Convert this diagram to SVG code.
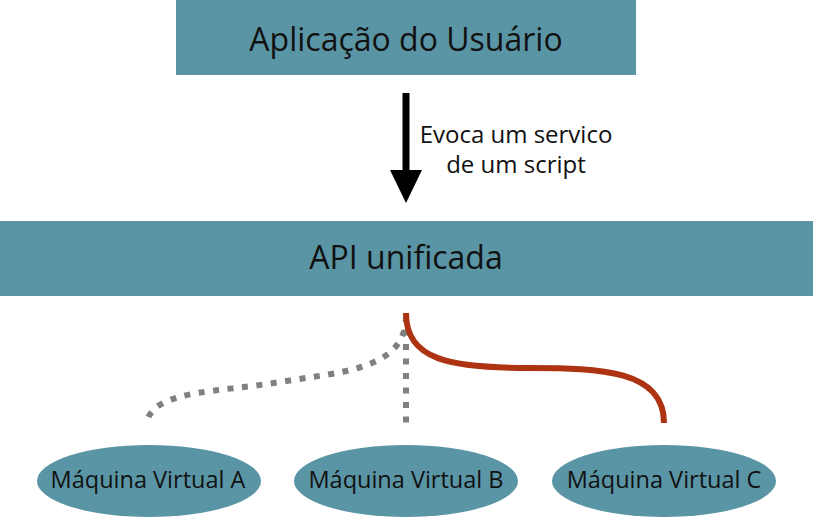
<svg xmlns="http://www.w3.org/2000/svg" width="813" height="517" viewBox="0 0 813 517">
<style>
.box{fill:#5a95a5}
.t{font-family:"Open Sans","DejaVu Sans",sans-serif;fill:#111;text-anchor:middle}
.big{font-size:32px}
.small{font-size:23.5px}
.lbl{font-size:24px}
.dot{fill:none;stroke:#808080;stroke-width:6;stroke-dasharray:6 8.5}
.red{fill:none;stroke:#ad3312;stroke-width:6}
</style>
<rect width="813" height="517" fill="#fff"/>
<g id="app">
<rect class="box" x="176" y="0" width="460" height="75"/>
<text class="t big" x="406" y="51">Aplicação do Usuário</text>
</g>
<g id="api">
<rect class="box" x="0" y="221" width="813" height="75"/>
<text class="t big" x="406" y="269">API unificada</text>
</g>
<g id="vma">
<ellipse class="box" cx="149" cy="481" rx="112" ry="36"/>
<text class="t small" x="148" y="488">Máquina Virtual A</text>
</g>
<g id="vmb">
<ellipse class="box" cx="406" cy="481" rx="112" ry="36"/>
<text class="t small" x="406" y="488">Máquina Virtual B</text>
</g>
<g id="vmc">
<ellipse class="box" cx="664" cy="481" rx="112" ry="36"/>
<text class="t small" x="664" y="488">Máquina Virtual C</text>
</g>
<g id="connectors">
<rect x="402.5" y="93" width="7" height="80" fill="#000"/>
<polygon points="390,170 422,170 406,203" fill="#000"/>
<text class="t lbl" x="516" y="143">Evoca um servico</text>
<text class="t lbl" x="516" y="173">de um script</text>
<path class="dot" d="M406,316 C406,370 340,372 280,382 S160,390 148,418"/>
<path class="dot" d="M406,315 L406,423"/>
<path class="red" d="M406,313 C406,360 450,368 530,368 C600,368 664,370 664,423"/>
</g>
</svg>
